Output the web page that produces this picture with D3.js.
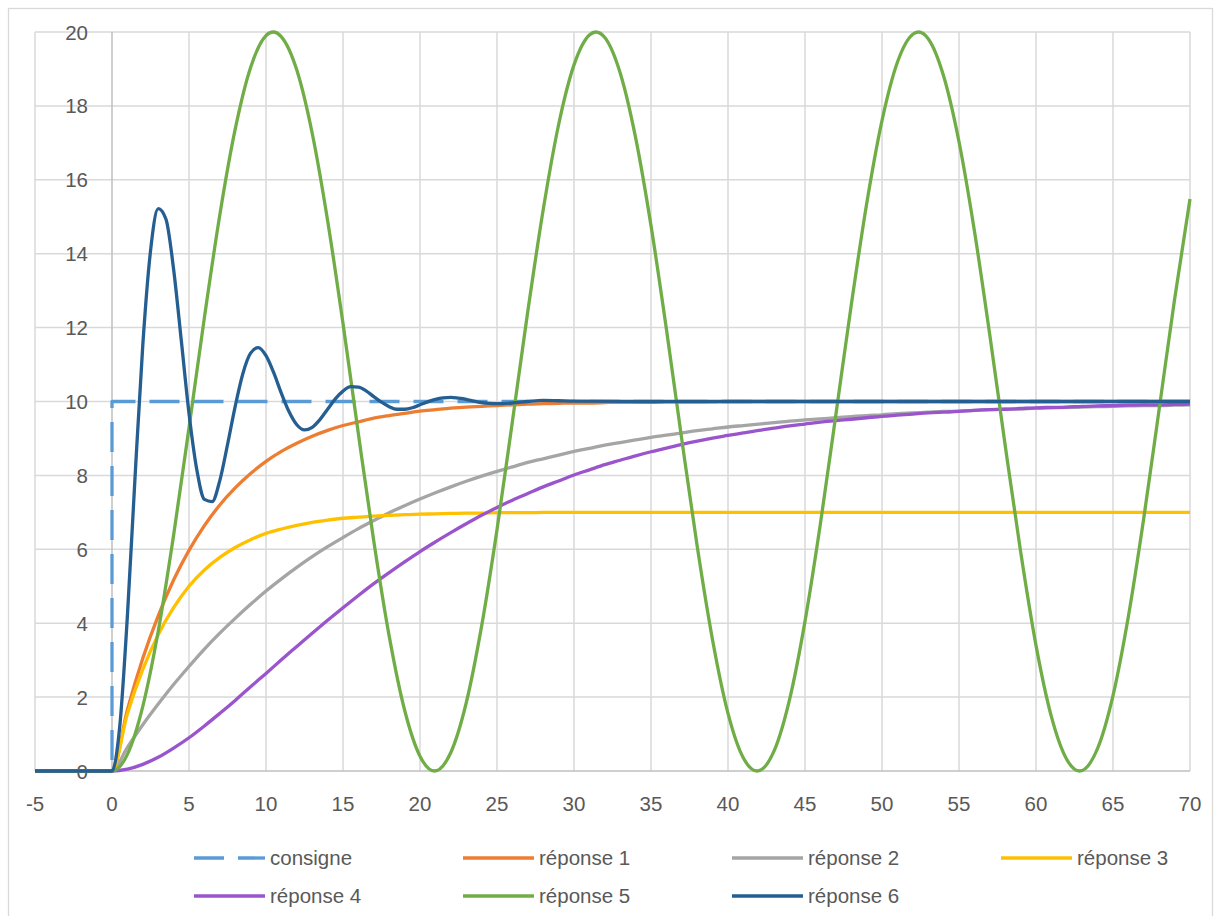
<!DOCTYPE html>
<html>
<head>
<meta charset="utf-8">
<script src="https://cdn.jsdelivr.net/npm/d3@7/dist/d3.min.js"></script>
<style>
  html, body { margin: 0; padding: 0; background: #ffffff; }
  svg { display: block; }
  text { font-family: "Liberation Sans", Arial, sans-serif; fill: #595959; }
</style>
</head>
<body>
<svg id="chart" width="1218" height="916"></svg>
<script>
// ---- data ----
const seriesNames = ["consigne", "réponse 1", "réponse 2", "réponse 3", "réponse 4", "réponse 5", "réponse 6"];
const seriesColors = ["#5B9BD5", "#ED7D31", "#A5A5A5", "#FFC000", "#9A55CD", "#70AD47", "#255E91"];

const xTicks = [-5, 0, 5, 10, 15, 20, 25, 30, 35, 40, 45, 50, 55, 60, 65, 70];
const yTicks = [0, 2, 4, 6, 8, 10, 12, 14, 16, 18, 20];

const tConsigne = [-5, 0, 0, 70];
const consigne  = [0, 0, 10, 10];

const tStep = [-5, 0, 1, 2, 3, 4, 5, 6, 7, 8, 9, 10, 11, 12, 13, 14, 15, 16, 17, 18, 19, 20,
  21, 22, 23, 24, 25, 26, 27, 28, 29, 30, 31, 32, 33, 34, 35, 36, 37, 38, 39, 40,
  41, 42, 43, 44, 45, 46, 47, 48, 49, 50, 51, 52, 53, 54, 55, 56, 57, 58, 59, 60,
  61, 62, 63, 64, 65, 66, 67, 68, 69, 70];

const reponse1 = [0, 0, 1.66, 3.05, 4.20, 5.17, 5.97, 6.64, 7.20, 7.66, 8.05, 8.38, 8.65, 8.87, 9.06, 9.22, 9.35,
  9.45, 9.55, 9.62, 9.68, 9.74, 9.78, 9.82, 9.85, 9.87, 9.89, 9.91, 9.93, 9.94, 9.95, 9.96,
  9.96, 9.97, 9.98, 9.98, 9.98, 9.99, 9.99, 9.99, 9.99, 10, 10, 10, 10, 10, 10, 10, 10, 10, 10, 10,
  10, 10, 10, 10, 10, 10, 10, 10, 10, 10, 10, 10, 10, 10, 10, 10, 10, 10, 10, 10, 10];

const reponse2 = [0, 0, 0.64, 1.25, 1.81, 2.34, 2.83, 3.30, 3.73, 4.13, 4.51, 4.87, 5.20, 5.51, 5.80, 6.07, 6.32,
  6.56, 6.78, 6.99, 7.18, 7.36, 7.53, 7.69, 7.84, 7.98, 8.11, 8.23, 8.35, 8.45, 8.55, 8.65,
  8.73, 8.82, 8.89, 8.96, 9.03, 9.09, 9.15, 9.21, 9.26, 9.31, 9.35, 9.39, 9.43, 9.47, 9.50,
  9.53, 9.56, 9.59, 9.62, 9.64, 9.67, 9.69, 9.71, 9.73, 9.74, 9.76, 9.78, 9.79, 9.80, 9.82,
  9.83, 9.84, 9.85, 9.86, 9.87, 9.88, 9.89, 9.89, 9.90, 9.91];

const reponse3 = [0, 0, 1.55, 2.75, 3.69, 4.42, 5.00, 5.44, 5.78, 6.05, 6.26, 6.43, 6.55, 6.65, 6.73, 6.79, 6.84,
  6.87, 6.90, 6.92, 6.94, 6.95, 6.96, 6.97, 6.98, 6.98, 6.99, 6.99, 6.99, 7, 7, 7,
  7, 7, 7, 7, 7, 7, 7, 7, 7, 7, 7, 7, 7, 7, 7, 7, 7, 7, 7, 7, 7, 7, 7, 7, 7, 7, 7, 7, 7, 7,
  7, 7, 7, 7, 7, 7, 7, 7, 7, 7];

const reponse4 = [0, 0, 0.05, 0.18, 0.37, 0.62, 0.90, 1.22, 1.56, 1.91, 2.28, 2.64, 3.01, 3.37, 3.73, 4.08, 4.42,
  4.75, 5.07, 5.37, 5.66, 5.94, 6.20, 6.45, 6.69, 6.92, 7.13, 7.33, 7.51, 7.69, 7.85, 8.01,
  8.15, 8.29, 8.41, 8.53, 8.64, 8.74, 8.84, 8.93, 9.01, 9.08, 9.15, 9.22, 9.28, 9.34, 9.39,
  9.44, 9.48, 9.52, 9.56, 9.60, 9.63, 9.66, 9.69, 9.71, 9.73, 9.76, 9.78, 9.79, 9.81, 9.83,
  9.84, 9.85, 9.87, 9.88, 9.89, 9.90, 9.91, 9.91, 9.92, 9.93];

// réponse 5: samples every unit plus the read-off peaks and troughs
const tWave = [-5, 0, 1, 2, 3, 4, 5, 6, 7, 8, 9, 10, 10.47, 11, 12, 13, 14, 15, 16, 17, 18, 19, 20, 20.94,
  22, 23, 24, 25, 26, 27, 28, 29, 30, 31, 31.42, 32, 33, 34, 35, 36, 37, 38, 39, 40, 41, 41.89,
  43, 44, 45, 46, 47, 48, 49, 50, 51, 52, 52.36, 53, 54, 55, 56, 57, 58, 59, 60, 61, 62, 62.83,
  64, 65, 66, 67, 68, 69, 70];

const reponse5 = [0, 0, 0.45, 1.75, 3.78, 6.38, 9.29, 12.27, 15.05, 17.37, 19.04, 19.90, 20, 19.87, 18.97, 17.26, 14.90, 12.11,
  9.12, 6.22, 3.65, 1.65, 0.40, 0,
  0.50, 1.84, 3.92, 6.53, 9.46, 12.44, 15.19, 17.49, 19.11, 19.92, 20, 19.85, 18.89, 17.14, 14.76, 11.96,
  8.97, 6.08, 3.54, 1.56, 0.35, 0,
  0.55, 1.94, 4.05, 6.69, 9.63, 12.60, 15.34, 17.60, 19.18, 19.94, 20, 19.82, 18.81, 17.03, 14.62, 11.80,
  8.81, 5.94, 3.40, 1.47, 0.31, 0,
  0.61, 2.04, 4.19, 6.85, 9.80, 12.77, 15.48];

const tFine = [-5, 0, 0.5, 1, 1.5, 2, 2.5, 3, 3.5, 4, 4.5, 5, 5.5, 6, 6.5, 7, 7.5, 8, 8.5, 9, 9.5, 10,
  10.5, 11, 11.5, 12, 12.5, 13, 13.5, 14, 14.5, 15, 15.5, 16, 16.5, 17, 17.5, 18, 18.5, 19, 19.5, 20,
  20.5, 21, 21.5, 22, 22.5, 23, 23.5, 24, 24.5, 25, 26, 27, 28, 29, 30, 35, 40, 50, 60, 70];

const reponse6 = [0, 0, 1.19, 4.20, 7.98, 11.53, 14.07, 15.22, 14.94, 13.58, 11.65, 9.68, 8.17, 7.35, 7.29, 7.86, 8.83,
  9.87, 10.76, 11.31, 11.46, 11.24, 10.78, 10.22, 9.72, 9.37, 9.23, 9.30, 9.51, 9.79, 10.07, 10.28,
  10.40, 10.39, 10.29, 10.13, 9.98, 9.86, 9.79, 9.79, 9.83, 9.91, 9.99, 10.06, 10.10, 10.11, 10.09,
  10.06, 10.01, 9.97, 9.95, 9.94, 9.96, 10.00, 10.03, 10.02, 10.01, 10, 10, 10, 10, 10];

// ---- chart ----
const svg = d3.select("#chart");

// outer border
svg.append("rect").attr("x", 8.5).attr("y", 8.5).attr("width", 1204).attr("height", 930)
  .attr("fill", "#ffffff").attr("stroke", "#d9d9d9").attr("stroke-width", 1.3);

const x = d3.scaleLinear().domain([-5, 70]).range([35, 1190]);
const y = d3.scaleLinear().domain([0, 20]).range([771, 32]);

// gridlines
const grid = svg.append("g");
grid.selectAll("line.v").data(xTicks.filter(d => d !== 0)).enter().append("line")
  .attr("x1", d => x(d)).attr("x2", d => x(d)).attr("y1", y(0)).attr("y2", y(20))
  .attr("stroke", "#d9d9d9").attr("stroke-width", 1.5);
grid.selectAll("line.h").data(yTicks.filter(d => d !== 0)).enter().append("line")
  .attr("x1", x(-5)).attr("x2", x(70)).attr("y1", d => y(d)).attr("y2", d => y(d))
  .attr("stroke", "#d9d9d9").attr("stroke-width", 1.5);

// axis lines
svg.append("line").attr("x1", x(0)).attr("x2", x(0)).attr("y1", y(0)).attr("y2", y(20))
  .attr("stroke", "#bfbfbf").attr("stroke-width", 1.5);
svg.append("line").attr("x1", x(-5)).attr("x2", x(70)).attr("y1", y(0)).attr("y2", y(0))
  .attr("stroke", "#bfbfbf").attr("stroke-width", 1.5);

// tick labels
svg.append("g").selectAll("text").data(yTicks).enter().append("text")
  .attr("x", 88).attr("y", d => y(d) + 7.5)
  .attr("text-anchor", "end").attr("font-size", 20.5).text(d => d);
svg.append("g").selectAll("text").data(xTicks).enter().append("text")
  .attr("x", d => x(d)).attr("y", 811)
  .attr("text-anchor", "middle").attr("font-size", 20.5).text(d => d);

// series
const series = [
  { t: tConsigne, v: consigne, dash: "30,14", linear: true },
  { t: tStep, v: reponse1 },
  { t: tStep, v: reponse2 },
  { t: tStep, v: reponse3 },
  { t: tStep, v: reponse4 },
  { t: tWave, v: reponse5 },
  { t: tFine, v: reponse6 }
];

const plot = svg.append("g");
series.forEach((s, i) => {
  const pts = s.t.map((tt, k) => [tt, s.v[k]]);
  const line = d3.line().x(d => x(d[0])).y(d => y(d[1]))
    .curve(s.linear ? d3.curveLinear : d3.curveMonotoneX);
  plot.append("path").datum(pts)
    .attr("d", line)
    .attr("fill", "none")
    .attr("stroke", seriesColors[i])
    .attr("stroke-width", 3.3)
    .attr("stroke-linejoin", "round")
    .attr("stroke-dasharray", s.dash || null);
});

// legend
const legendCols = [194, 463, 732, 1001];
const legendRows = [858, 896];
const legend = svg.append("g");
seriesNames.forEach((name, i) => {
  const cx = legendCols[i % 4];
  const cy = legendRows[Math.floor(i / 4)];
  legend.append("line")
    .attr("x1", cx).attr("x2", cx + 71).attr("y1", cy).attr("y2", cy)
    .attr("stroke", seriesColors[i]).attr("stroke-width", 3.3)
    .attr("stroke-dasharray", i === 0 ? "30,14" : null);
  legend.append("text")
    .attr("x", cx + 76).attr("y", cy + 7)
    .attr("font-size", 20.5).text(name);
});
</script>
</body>
</html>
